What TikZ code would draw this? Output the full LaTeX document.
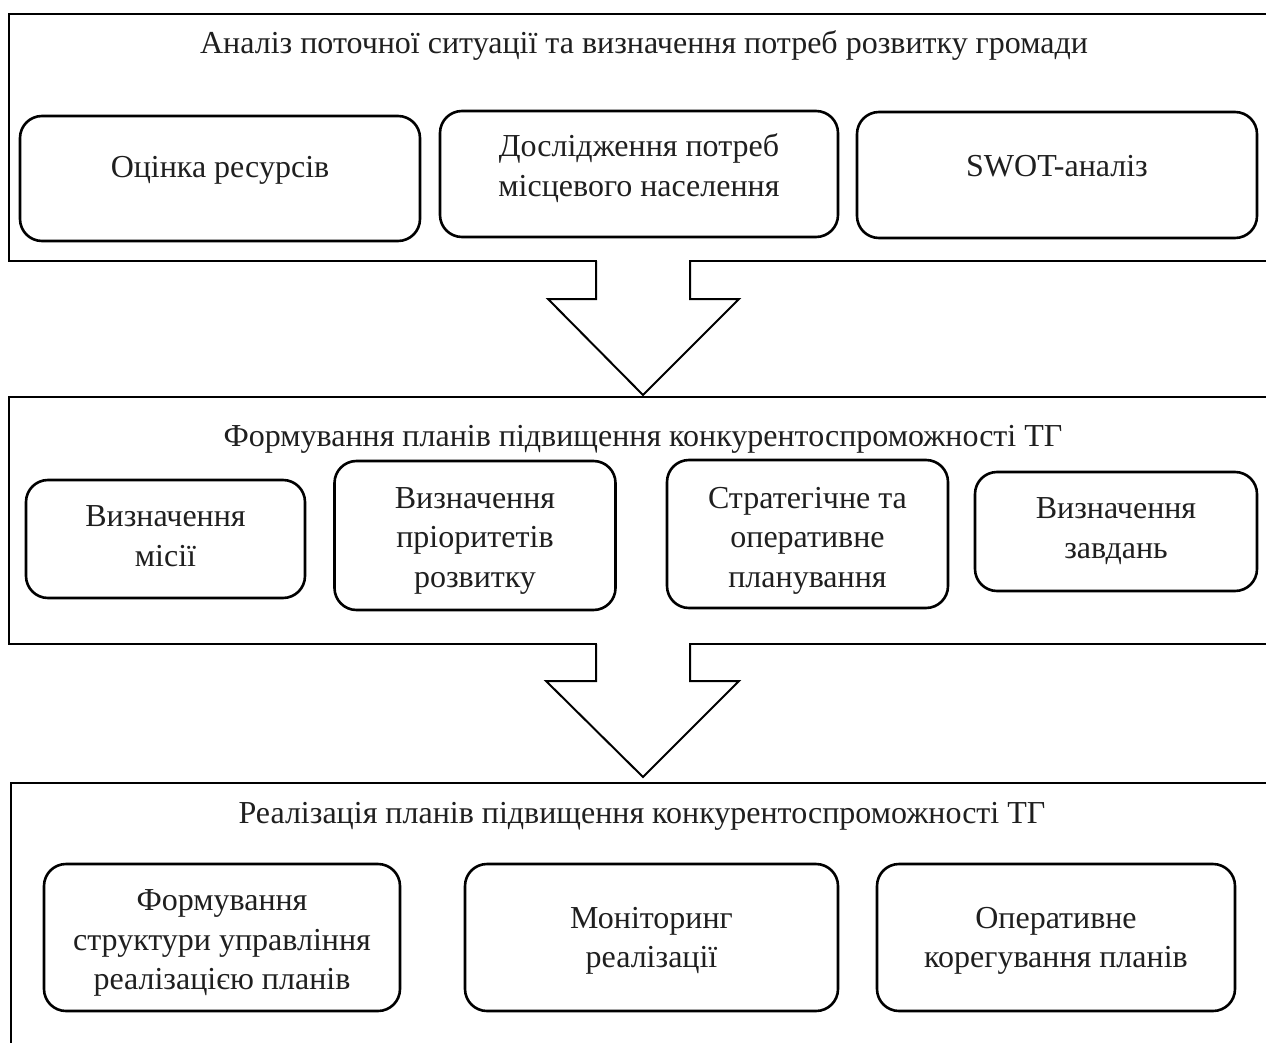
\documentclass[tikz,border=0pt]{standalone}
\usepackage{fontspec}
\setmainfont{Liberation Serif}
\begin{document}
\begin{tikzpicture}[x=1pt,y=-1pt,
  frame/.style={draw, line width=2.8pt, rectangle, inner sep=0pt, outer sep=0pt},
  ibox/.style={draw, line width=2.6pt, rounded corners=22pt, inner sep=0pt},
  txt/.style={font=\fontsize{32}{39.5}\selectfont, align=center, inner sep=0pt, anchor=base, text=black!88},
  barrow/.style={draw, line width=2pt, line join=miter}]
\clip (0,0) rectangle (1266,1043);
\fill[white] (0,0) rectangle (1266,1043);
% frames
\node[frame, minimum width=1300, minimum height=247, anchor=north west] (f1) at (9,14) {};
\node[frame, minimum width=1300, minimum height=247, anchor=north west] (f2) at (9,397) {};
\node[frame, minimum width=1300, minimum height=400, anchor=north west] (f3) at (11,783) {};
% titles
\node[txt] (t1) at (644,54) {Аналіз поточної ситуації та визначення потреб розвитку громади};
\node[txt] (t2) at (643,446) {Формування планів підвищення конкурентоспроможності ТГ};
\node[txt] (t3) at (642,823) {Реалізація планів підвищення конкурентоспроможності ТГ};
% row 1 (multi-line text: base anchor = last line baseline)
\node[ibox, minimum width=400, minimum height=125] (b11) at (220,178.5) {};
\node[ibox, minimum width=398, minimum height=126] (b12) at (639,174) {};
\node[ibox, minimum width=400, minimum height=126] (b13) at (1057,175) {};
\node[txt] (l11) at (220,178) {Оцінка ресурсів};
\node[txt] (l12) at (639,196.5) {Дослідження потреб\\місцевого населення};
\node[txt] (l13) at (1057,177) {SWOT-аналіз};
% row 2
\node[ibox, minimum width=279, minimum height=118] (b21) at (165.5,539) {};
\node[ibox, minimum width=281, minimum height=149] (b22) at (475,535.5) {};
\node[ibox, minimum width=281, minimum height=148] (b23) at (807.5,534) {};
\node[ibox, minimum width=282, minimum height=119] (b24) at (1116,531.5) {};
\node[txt] (l21) at (165.5,566) {Визначення\\місії};
\node[txt] (l22) at (475,587) {Визначення\\пріоритетів\\розвитку};
\node[txt] (l23) at (807.5,587) {Стратегічне та\\оперативне\\планування};
\node[txt] (l24) at (1116,558) {Визначення\\завдань};
% row 3
\node[ibox, minimum width=356, minimum height=147] (b31) at (222,937.5) {};
\node[ibox, minimum width=373, minimum height=147] (b32) at (651.5,937.5) {};
\node[ibox, minimum width=358, minimum height=147] (b33) at (1056,937.5) {};
\node[txt] (l31) at (222,989.5) {Формування\\структури управління\\реалізацією планів};
\node[txt] (l32) at (651.5,967.5) {Моніторинг\\реалізації};
\node[txt] (l33) at (1056,967.5) {Оперативне\\корегування планів};
% block arrows
\fill[white] (597.2,255) rectangle (688.8,267);
\draw[barrow] (596,261) -- (596,299) -- (548,299) -- (643,395) -- (739,299) -- (690,299) -- (690,261);
\fill[white] (597.2,638) rectangle (688.8,650);
\draw[barrow] (596,644) -- (596,681) -- (546,681) -- (643,777) -- (739,681) -- (690,681) -- (690,644);
\end{tikzpicture}
\end{document}
